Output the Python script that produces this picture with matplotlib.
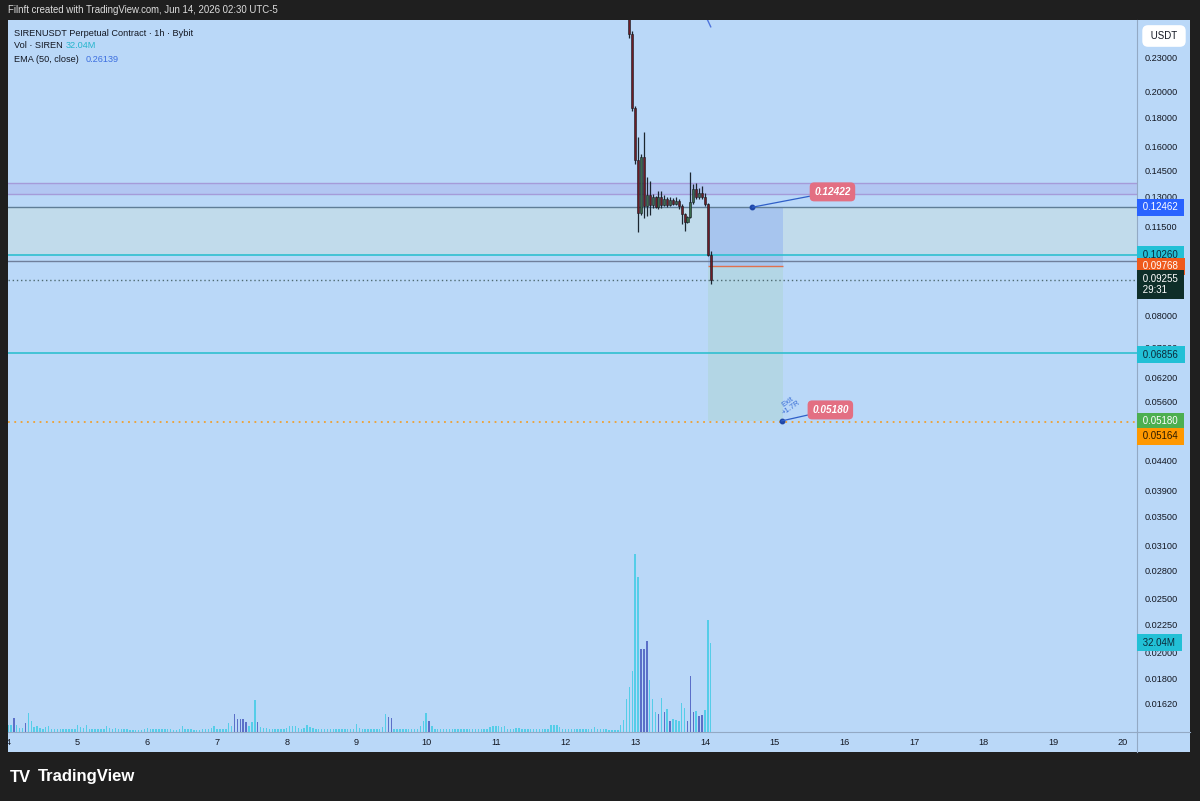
import numpy as np
import matplotlib.pyplot as plt
from matplotlib.patches import Rectangle
from matplotlib.lines import Line2D
from matplotlib.ticker import FixedLocator, NullLocator

plt.rcParams['font.family'] = ['Liberation Sans', 'DejaVu Sans']

W, H = 1200, 801

# Data (hour index counted from Jun 4 00:00)

vol_day4 = [2.6, 2.6, 5.0, 2.4, 1.6, 1.6, 3.4, 6.8, 3.8, 1.8, 2.0, 1.4, 1.2, 1.8, 2.2, 1.2, 1.2, 1.0, 1.0, 1.0, 1.0, 1.0, 1.0, 1.1]
vol_day5 = [2.6, 1.8, 1.6, 2.4, 1.2, 1.2, 1.0, 1.0, 1.1, 1.0, 2.2, 1.4, 1.1, 1.3, 1.1, 1.2, 1.0, 1.0, 0.8, 0.8, 0.7, 0.8, 0.8, 1.1]
vol_day6 = [1.4, 1.1, 1.1, 1.2, 1.2, 1.2, 1.0, 1.0, 1.0, 0.8, 0.8, 1.0, 2.0, 1.2, 1.2, 1.0, 0.6, 0.7, 0.8, 1.0, 1.0, 1.1, 1.4, 2.3]
vol_day7 = [1.1, 1.0, 1.2, 1.1, 3.2, 2.0, 6.6, 4.8, 4.8, 4.8, 3.6, 2.0, 3.6, 11.4, 3.6, 1.8, 1.6, 1.6, 1.2, 1.2, 1.2, 1.1, 1.1, 1.2]
vol_day8 = [1.4, 2.3, 2.3, 2.0, 1.6, 1.2, 1.6, 2.4, 1.8, 1.6, 1.2, 1.2, 1.1, 1.0, 1.0, 1.0, 1.0, 1.0, 1.1, 1.0, 1.0, 1.0, 1.1, 1.0]
vol_day9 = [2.8, 1.4, 1.2, 1.1, 1.1, 1.0, 1.0, 1.0, 1.1, 1.8, 6.4, 5.4, 5.2, 1.2, 1.1, 1.0, 1.0, 1.0, 1.0, 1.0, 1.0, 1.0, 2.0, 3.8]
vol_day10 = [6.8, 4.0, 2.2, 1.2, 1.2, 1.1, 1.0, 1.0, 1.0, 1.0, 1.0, 1.1, 1.0, 1.0, 1.0, 1.0, 1.0, 1.1, 1.0, 1.0, 1.0, 1.1, 1.8, 2.3]
vol_day11 = [2.0, 2.3, 1.8, 2.0, 1.0, 1.0, 1.1, 1.6, 1.6, 1.2, 1.1, 1.0, 1.0, 1.0, 1.0, 1.0, 1.0, 1.0, 1.0, 2.6, 2.6, 2.4, 1.8, 1.2]
vol_day12 = [1.2, 1.2, 1.2, 1.1, 1.1, 1.2, 1.0, 1.1, 1.0, 1.0, 1.7, 1.1, 1.0, 1.0, 1.0, 0.8, 0.6, 0.6, 0.6, 2.6, 4.4, 11.8, 16.2, 22.0]
vol_day13 = [64.0, 55.6, 29.8, 29.8, 32.8, 18.6, 12.0, 7.1, 6.4, 12.4, 7.1, 8.4, 3.8, 4.8, 4.2, 4.0, 10.4, 8.6, 4.1, 20.3, 7.1, 7.6, 5.8, 6.0, 8.0, 40.2, 32.04]
vol_down = [2, 6, 78, 79, 80, 81, 82, 86, 131, 132, 145, 218, 219, 220, 224, 226, 228, 234, 235, 236, 238, 239]

candle_first = 214
opens = [0.330, 0.254, 0.187, 0.151, 0.1217, 0.1530, 0.1250, 0.1310, 0.1255, 0.1300, 0.1245, 0.1300, 0.1260, 0.1290, 0.1255,
         0.1285, 0.1265, 0.1280, 0.1250, 0.1210, 0.1175, 0.1195, 0.1275, 0.1345, 0.1300, 0.1320, 0.1300, 0.1265, 0.1025]
highs = [0.345, 0.257, 0.189, 0.166, 0.1550, 0.1700, 0.1410, 0.1385, 0.1315, 0.1305, 0.1330, 0.1330, 0.1310, 0.1300, 0.1300,
         0.1295, 0.1300, 0.1290, 0.1265, 0.1215, 0.1200, 0.1440, 0.1370, 0.1375, 0.1350, 0.1360, 0.1320, 0.1270, 0.1040]
lows = [0.250, 0.185, 0.149, 0.1125, 0.1205, 0.1190, 0.1200, 0.1205, 0.1240, 0.1240, 0.1235, 0.1240, 0.1250, 0.1245, 0.1250,
        0.1255, 0.1255, 0.1235, 0.1165, 0.1130, 0.1170, 0.1190, 0.1265, 0.1290, 0.1290, 0.1290, 0.1250, 0.1020, 0.0910]
closes = [0.254, 0.187, 0.151, 0.1217, 0.1530, 0.1250, 0.1310, 0.1255, 0.1300, 0.1245, 0.1300, 0.1260, 0.1290, 0.1255, 0.1285,
          0.1265, 0.1280, 0.1250, 0.1210, 0.1175, 0.1195, 0.1275, 0.1345, 0.1300, 0.1320, 0.1300, 0.1265, 0.1025, 0.09255]

ema_hours = [239, 240, 241, 242]
ema_vals = [0.2795, 0.2738, 0.2682, 0.26139]

zone_top, zone_bot = 0.1375, 0.1313
stop_level = 0.12462
cyan_level = 0.10260
grey_level = 0.1000
last_price = 0.09255
entry_level = 0.09768
cyan_level2 = 0.06856
target_level = 0.05180
target_line = 0.05164
pos_start, pos_end = 14.042, 15.125

y_ticks = [0.23, 0.20, 0.18, 0.16, 0.145, 0.13, 0.115, 0.08, 0.07, 0.062, 0.056, 0.044, 0.039,
           0.035, 0.031, 0.028, 0.025, 0.0225, 0.020, 0.018, 0.0162]
x_days = list(range(4, 21))

# Colours

frame = '#1f1f1f'
bg = '#bad8f8'
grid_c = '#93a9c4'
txt = '#131722'

fig = plt.figure(figsize=(W / 100, H / 100), dpi=100)
fig.patch.set_facecolor(frame)

def fx(x):
    return x / W

def fy(y):
    return 1 - y / H

fig.add_artist(Rectangle((fx(8), fy(752)), fx(1190) - fx(8), fy(20) - fy(752),
                         transform=fig.transFigure, fc=bg, ec='none', zorder=-5))

ax = fig.add_axes([fx(8), fy(732), fx(1137) - fx(8), fy(20) - fy(732)])
ax_v = ax.twinx()
ax.set_facecolor(bg)
ax.set_yscale('log')
ax.set_xlim(4.015, 20.20)
ax.set_ylim(0.01444, 0.2688)

# levels and zones
ax.axhspan(zone_bot, zone_top, color='#b2c6f2', lw=0, zorder=1)
ax.axhline(zone_top, color='#a59bd9', lw=1.0, zorder=2)
ax.axhline(zone_bot, color='#a59bd9', lw=1.0, zorder=2)
ax.axhspan(cyan_level, stop_level, color='#c1dbeb', lw=0, zorder=1)
ax.axhline(stop_level, color='#5f7d97', lw=1.0, zorder=2)
ax.axhline(cyan_level, color='#2fbfd0', lw=1.2, zorder=2)
ax.axhline(grey_level, color='#6f7f9b', lw=1.0, zorder=2)
ax.axhline(last_price, color='#4f6b72', lw=1.0, ls=(0, (1, 2)), zorder=2)
ax.axhline(cyan_level2, color='#2fbfd0', lw=1.2, zorder=2)
ax.axhline(target_line, color='#f0a030', lw=1.3, ls=(0, (1, 2.5)), zorder=2)

# short position tool
ax.fill_between([pos_start, pos_end], entry_level, stop_level, color='#a7c5ee', lw=0, zorder=1.5)
ax.fill_between([pos_start, pos_end], target_level, entry_level, color='#b3d6e5', lw=0, zorder=1.5)
ax.hlines(entry_level, pos_start, pos_end, color='#e0704e', lw=1.0, zorder=2.2)

# candles
t_c = 4 + (candle_first + np.arange(len(opens))) / 24
o = np.array(opens)
c = np.array(closes)
up = c >= o
ax.vlines(t_c, lows, highs, color='#1c2630', lw=0.9, zorder=3)
ax.bar(t_c, np.abs(c - o), bottom=np.minimum(o, c), width=0.7 / 24,
       color=np.where(up, '#3a6b4c', '#6e1c26'), edgecolor='#161c22', lw=0.4, zorder=4)

ax.plot(4 + np.array(ema_hours) / 24, ema_vals, color='#4f74dc', lw=1.0, zorder=3)

# annotations of the position
ax.plot(14.682, stop_level, 'o', ms=3.2, color='#1f47a8', zorder=6)
ax.annotate('0.12422', xy=(14.682, stop_level), xytext=(15.83, 0.1327), ha='center', va='center',
            fontsize=7.2, fontweight='bold', fontstyle='italic', color='white',
            bbox=dict(boxstyle='round,pad=0.45', fc='#e36f82', ec='none'),
            arrowprops=dict(arrowstyle='-', color='#2f5fc8', lw=0.9, shrinkA=0, shrinkB=0), zorder=6)
ax.plot(15.10, target_level, 'o', ms=3.2, color='#1f47a8', zorder=6)
ax.annotate('0.05180', xy=(15.10, target_level), xytext=(15.80, 0.0542), ha='center', va='center',
            fontsize=7.2, fontweight='bold', fontstyle='italic', color='white',
            bbox=dict(boxstyle='round,pad=0.45', fc='#e36f82', ec='none'),
            arrowprops=dict(arrowstyle='-', color='#2f5fc8', lw=0.9, shrinkA=0, shrinkB=0), zorder=6)
ax.text(15.21, 0.0553, 'Exit\n+1.7R', fontsize=5.5, color='#3b6fd6', rotation=35,
        ha='center', va='center', linespacing=0.9, zorder=6)

# axes
ax.yaxis.set_major_locator(FixedLocator(y_ticks))
ax.yaxis.set_minor_locator(NullLocator())
ax.set_yticklabels(['%.5f' % v for v in y_ticks])
ax.tick_params(axis='y', which='both', left=False, right=False, labelleft=False, labelright=True,
               length=0, pad=5.8, labelsize=6.6, labelcolor=txt)
ax.set_xticks(x_days)
ax.set_xticklabels([str(d) for d in x_days])
ax.tick_params(axis='x', length=0, pad=4, labelsize=6.6, labelcolor=txt)
for s in ['top', 'left']:
    ax.spines[s].set_visible(False)
for s in ['right', 'bottom']:
    ax.spines[s].set_color(grid_c)
    ax.spines[s].set_linewidth(0.8)

# volume
vol = vol_day4 + vol_day5 + vol_day6 + vol_day7 + vol_day8 + vol_day9 + vol_day10 + vol_day11 + vol_day12 + vol_day13
t_v = 4 + np.arange(len(vol)) / 24
vcol = ['#5b6fc8' if i in vol_down else '#55cde8' for i in range(len(vol))]
ax_v.set_ylim(0, 256)
ax_v.bar(t_v, vol, width=0.5 / 24, color=vcol, lw=0, zorder=2)
ax_v.set_yticks([])
ax_v.tick_params(axis='y', left=False, right=False, labelleft=False, labelright=False)
for s in ax_v.spines.values():
    s.set_visible(False)

# price tags on the axis
def tag(a, y, text, fc, tc, dy=0):
    a.annotate(text, xy=(1, y), xycoords=a.get_yaxis_transform(), xytext=(2.5, dy),
               textcoords='offset points', ha='left', va='center', fontsize=7, color=tc,
               bbox=dict(boxstyle='square,pad=0.35', fc=fc, ec='none'),
               annotation_clip=False, zorder=10)

tag(ax, stop_level, ' %.5f ' % stop_level, '#2962ff', 'white')
tag(ax, cyan_level, ' %.5f ' % cyan_level, '#22c0d6', '#0c2a3a')
tag(ax, entry_level, ' %.5f ' % entry_level, '#ef5a1c', 'white')
tag(ax, last_price, ' %.5f \n 29:31' % last_price, '#0e2e29', 'white', dy=-3.5)
tag(ax, cyan_level2, ' %.5f ' % cyan_level2, '#22c0d6', '#0c2a3a', dy=-1.5)
tag(ax, target_level, ' %.5f ' % target_level, '#4caf50', 'white')
tag(ax, target_line, ' %.5f ' % target_line, '#ff9800', '#2a1a00', dy=-10.5)
tag(ax_v, vol[-1], ' %.2fM ' % vol[-1], '#22c0d6', '#0c2a3a')

fig.add_artist(Line2D([fx(1137), fx(1137)], [fy(732), fy(752)], color=grid_c, lw=0.8))
fig.add_artist(Line2D([fx(1137), fx(1190)], [fy(732), fy(732)], color=grid_c, lw=0.8))

fig.text(fx(1164), fy(36), ' USDT ', ha='center', va='center', fontsize=7, color=txt,
         bbox=dict(boxstyle='round,pad=0.6', fc='white', ec='none'))

# header, legend and logo
fig.text(fx(8), fy(10), 'Filnft created with TradingView.com, Jun 14, 2026 02:30 UTC-5',
         ha='left', va='center', fontsize=6.9, color='#dedede')
fig.text(fx(14), fy(33), 'SIRENUSDT Perpetual Contract · 1h · Bybit', ha='left', va='center', fontsize=6.6, color=txt)
fig.text(fx(14), fy(46), 'Vol · SIREN', ha='left', va='center', fontsize=6.6, color=txt)
fig.text(fx(66), fy(46), '32.04M', ha='left', va='center', fontsize=6.6, color='#26b5cc')
fig.text(fx(14), fy(60), 'EMA (50, close)', ha='left', va='center', fontsize=6.6, color=txt)
fig.text(fx(86), fy(60), '0.26139', ha='left', va='center', fontsize=6.6, color='#3d6fe0')

fig.text(fx(10), fy(777), 'TV', ha='left', va='center', fontsize=12, fontweight='heavy', color='white')
fig.text(fx(38), fy(777), 'TradingView', ha='left', va='center', fontsize=12, fontweight='bold', color='white')

fig.savefig('out.png', dpi=100, facecolor=fig.get_facecolor())
